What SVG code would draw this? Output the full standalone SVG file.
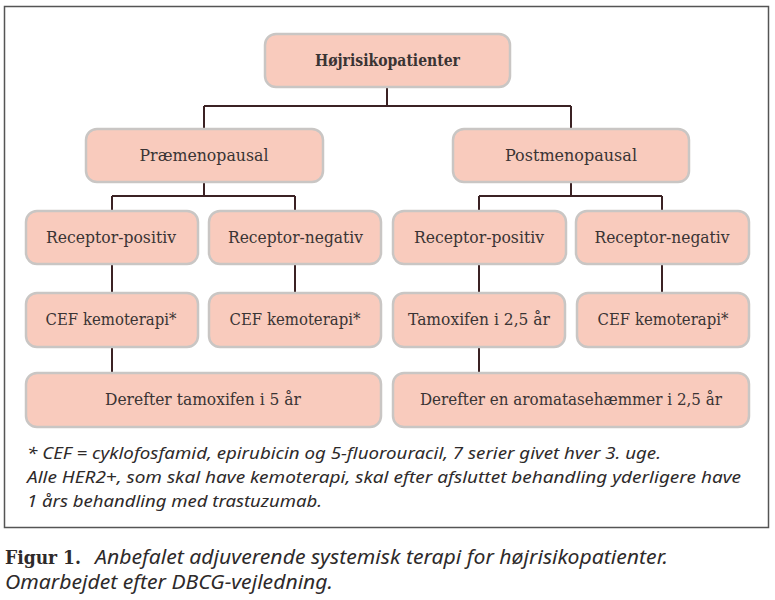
<svg xmlns="http://www.w3.org/2000/svg" width="775" height="600" viewBox="0 0 775 600">
<style>
.node rect{fill:#f9cbbd;stroke:#c9c6c4;stroke-width:2.5}
.node text{font-family:"DejaVu Serif","Liberation Serif",serif;font-size:17px;fill:#3a3434;text-anchor:middle}
.conn path{fill:none;stroke:#3b2224;stroke-width:2}
.fn{font-family:"Noto Sans","Liberation Sans",sans-serif;font-style:italic;font-size:17px;fill:#2e2a2a}
.cap{font-family:"Noto Sans","Liberation Sans",sans-serif;font-size:19px;fill:#2e2a2a}
.capb{font-family:"DejaVu Serif","Liberation Serif",serif;font-weight:bold;font-size:19px;fill:#2e2a2a}
</style>
<rect x="4.5" y="6.5" width="764" height="521" fill="#fff" stroke="#555" stroke-width="1.5"/>
<g class="conn">
<path d="M387 87V106M204 106H571M204 106V129M571 106V129"/>
<path d="M204 182V196M112 196H295M112 196V211M295 196V211"/>
<path d="M571 182V196M479 196H662M479 196V211M662 196V211"/>
<path d="M112 264V293M295 264V293M479 264V293M662 264V293"/>
<path d="M112 347V373M479 347V373"/>
</g>
<g id="n-top" class="node"><rect x="265" y="34" width="245" height="53" rx="11"/><text x="387.5" y="66" font-weight="bold" textLength="145" lengthAdjust="spacingAndGlyphs">Højrisikopatienter</text></g>
<g id="n-prae" class="node"><rect x="86" y="129" width="237" height="53" rx="11"/><text x="204" y="161" textLength="129" lengthAdjust="spacingAndGlyphs">Præmenopausal</text></g>
<g id="n-post" class="node"><rect x="453" y="129" width="236" height="53" rx="11"/><text x="571" y="161" textLength="132" lengthAdjust="spacingAndGlyphs">Postmenopausal</text></g>
<g id="n-pre-pos" class="node"><rect x="26" y="211" width="172" height="53" rx="11"/><text x="111" y="243" textLength="130" lengthAdjust="spacingAndGlyphs">Receptor-positiv</text></g>
<g id="n-pre-neg" class="node"><rect x="209" y="211" width="172" height="53" rx="11"/><text x="295.5" y="243" textLength="135" lengthAdjust="spacingAndGlyphs">Receptor-negativ</text></g>
<g id="n-post-pos" class="node"><rect x="393" y="211" width="173" height="53" rx="11"/><text x="479" y="243" textLength="130" lengthAdjust="spacingAndGlyphs">Receptor-positiv</text></g>
<g id="n-post-neg" class="node"><rect x="576" y="211" width="173" height="53" rx="11"/><text x="662" y="243" textLength="135" lengthAdjust="spacingAndGlyphs">Receptor-negativ</text></g>
<g id="n-pre-pos-cef" class="node"><rect x="26" y="293" width="172" height="54" rx="11"/><text x="111" y="325" textLength="131" lengthAdjust="spacingAndGlyphs">CEF kemoterapi*</text></g>
<g id="n-pre-neg-cef" class="node"><rect x="209" y="293" width="172" height="54" rx="11"/><text x="295" y="325" textLength="131" lengthAdjust="spacingAndGlyphs">CEF kemoterapi*</text></g>
<g id="n-post-pos-tam" class="node"><rect x="393" y="293" width="172" height="54" rx="11"/><text x="479" y="325" textLength="142" lengthAdjust="spacingAndGlyphs">Tamoxifen i 2,5 år</text></g>
<g id="n-post-neg-cef" class="node"><rect x="577" y="293" width="172" height="54" rx="11"/><text x="663" y="325" textLength="131" lengthAdjust="spacingAndGlyphs">CEF kemoterapi*</text></g>
<g id="n-pre-then" class="node"><rect x="26" y="373" width="355" height="54" rx="11"/><text x="203" y="405" textLength="196" lengthAdjust="spacingAndGlyphs">Derefter tamoxifen i 5 år</text></g>
<g id="n-post-then" class="node"><rect x="393" y="373" width="356" height="54" rx="11"/><text x="571" y="405" textLength="302" lengthAdjust="spacingAndGlyphs">Derefter en aromatasehæmmer i 2,5 år</text></g>
<text class="fn" x="27" y="459" textLength="634" lengthAdjust="spacingAndGlyphs">* CEF = cyklofosfamid, epirubicin og 5-fluorouracil, 7 serier givet hver 3. uge.</text>
<text class="fn" x="27" y="483" textLength="714" lengthAdjust="spacingAndGlyphs">Alle HER2+, som skal have kemoterapi, skal efter afsluttet behandling yderligere have</text>
<text class="fn" x="27" y="507" textLength="295" lengthAdjust="spacingAndGlyphs">1 års behandling med trastuzumab.</text>
<text class="capb" x="5" y="564" textLength="76" lengthAdjust="spacingAndGlyphs">Figur 1.</text>
<text class="cap" x="95" y="564" font-style="italic" textLength="573" lengthAdjust="spacingAndGlyphs">Anbefalet adjuverende systemisk terapi for højrisikopatienter.</text>
<text class="cap" x="5" y="589" font-style="italic" textLength="328" lengthAdjust="spacingAndGlyphs">Omarbejdet efter DBCG-vejledning.</text>
</svg>
